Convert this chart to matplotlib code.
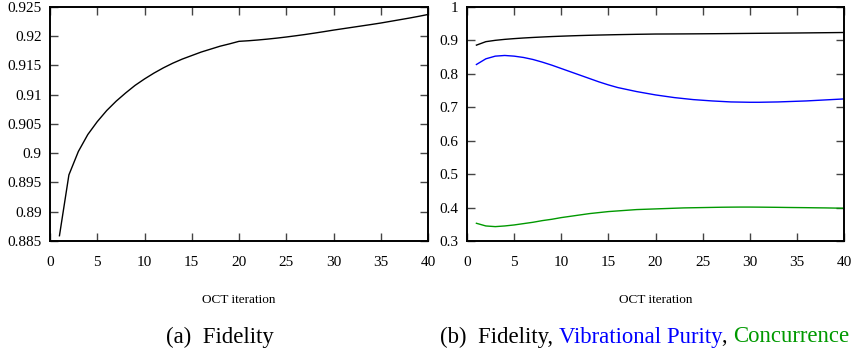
import matplotlib
matplotlib.use("Agg")
import matplotlib.pyplot as plt
from matplotlib.ticker import FuncFormatter

plt.rcParams['font.family'] = ['Liberation Serif', 'DejaVu Serif']

iterations = list(range(1, 41))
fidelity = [0.8859, 0.8963, 0.9003, 0.9032, 0.9054, 0.9073, 0.9089, 0.9103, 0.9116, 0.9127,
            0.9137, 0.9146, 0.9154, 0.9161, 0.9167, 0.9173, 0.9178, 0.9183, 0.9187, 0.91913,
            0.91923, 0.91936, 0.91951, 0.91968, 0.91987, 0.92008, 0.92030, 0.92054, 0.92079, 0.92105,
            0.92129, 0.92153, 0.92177, 0.92201, 0.92226, 0.92254, 0.92282, 0.92310, 0.92340, 0.92372]
purity = [0.828, 0.845, 0.853, 0.855, 0.853, 0.849, 0.843, 0.835, 0.826, 0.816,
          0.806, 0.796, 0.786, 0.776, 0.767, 0.759, 0.753, 0.747, 0.742, 0.737,
          0.733, 0.729, 0.726, 0.723, 0.721, 0.719, 0.7175, 0.716, 0.7155, 0.715,
          0.715, 0.7155, 0.716, 0.717, 0.718, 0.719, 0.7205, 0.722, 0.7235, 0.725]
concurrence = [0.353, 0.345, 0.343, 0.345, 0.348, 0.352, 0.356, 0.361, 0.365, 0.370,
               0.374, 0.378, 0.382, 0.385, 0.388, 0.390, 0.392, 0.394, 0.395, 0.396,
               0.397, 0.398, 0.399, 0.3995, 0.400, 0.4005, 0.401, 0.4013, 0.4015, 0.4015,
               0.4013, 0.401, 0.4007, 0.4003, 0.400, 0.3997, 0.3993, 0.399, 0.3985, 0.398]

left_ticks_y = [0.885, 0.89, 0.895, 0.9, 0.905, 0.91, 0.915, 0.92, 0.925]
right_ticks_y = [0.3, 0.4, 0.5, 0.6, 0.7, 0.8, 0.9, 1.0]
x_ticks = [0, 5, 10, 15, 20, 25, 30, 35, 40]

fig = plt.figure(figsize=(8.55, 3.54), dpi=100)
ax1 = fig.add_axes([50/855, 1-241/354, 378/855, 234/354])
ax2 = fig.add_axes([467/855, 1-241/354, 377/855, 234/354])

fmt = FuncFormatter(lambda v, p: '%g' % round(v, 4))

def style(ax, yticks):
    ax.set_xlim(0, 40)
    ax.set_xticks(x_ticks)
    ax.set_ylim(yticks[0], yticks[-1])
    ax.set_yticks(yticks)
    ax.yaxis.set_major_formatter(fmt)
    ax.tick_params(direction='in', length=6, width=1.0, color='#444444',
                   top=True, right=True, labelsize=11)
    ax.tick_params(axis='x', pad=10.5)
    ax.tick_params(axis='y', pad=6)
    for s in ax.spines.values():
        s.set_linewidth(1.4)
    ax.set_xlabel('OCT iteration', fontsize=9.5, labelpad=18)

style(ax1, left_ticks_y)
style(ax2, right_ticks_y)

ax1.plot(iterations, fidelity, color='black', lw=1.0)
ax2.plot(iterations, fidelity, color='black', lw=1.0)
ax2.plot(iterations, purity, color='#0000ff', lw=1.0)
ax2.plot(iterations, concurrence, color='#009900', lw=1.0)

cap_y = 1 - 337/354
cap_size = 16.4
fig.text(220/855, cap_y, '(a)  Fidelity', ha='center', va='center', fontsize=cap_size)

pieces = [('(b)  Fidelity, ', 'black'), ('Vibrational Purity', '#0000ff'),
          (', ', 'black'), ('Concurrence', '#009900')]
fig.canvas.draw()
renderer = fig.canvas.get_renderer()
x = 440
for txt, col in pieces:
    t = fig.text(x/855, cap_y, txt, ha='left', va='center', fontsize=cap_size, color=col)
    bb = t.get_window_extent(renderer=renderer)
    x += bb.width

fig.savefig('out.png', dpi=100)
